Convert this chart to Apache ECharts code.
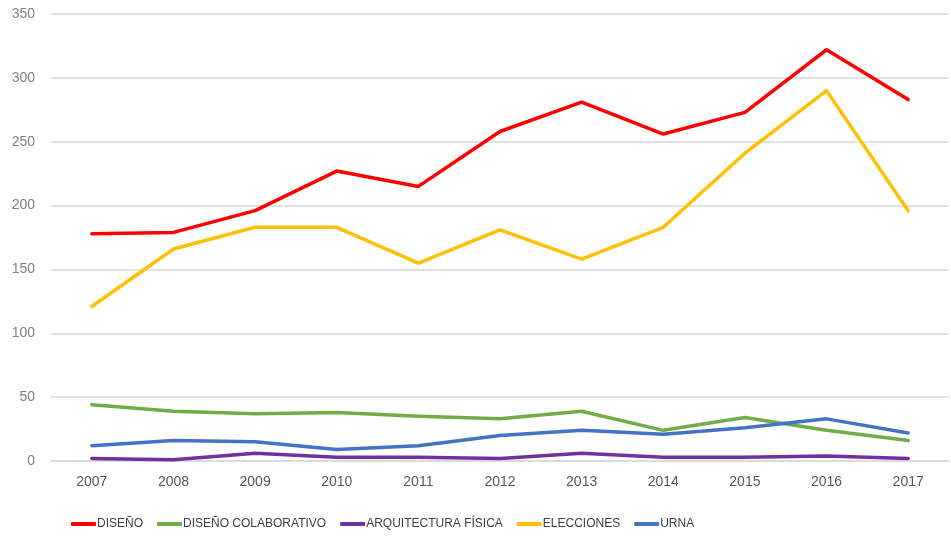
<!DOCTYPE html>
<html>
<head>
<meta charset="utf-8">
<script src="https://cdn.jsdelivr.net/npm/echarts@6/dist/echarts.min.js"></script>
<style>
    html, body {margin: 0; padding: 0; background: #fff;}
    #chart {width: 951px; height: 546px;}
</style>
</head>
<body>
<div id="chart"></div>
<script>
    var years = ['2007', '2008', '2009', '2010', '2011', '2012', '2013', '2014', '2015', '2016', '2017'];
    var diseno = [178, 179, 196, 227, 215, 258, 281, 256, 273, 322, 283];
    var disenoColab = [44, 39, 37, 38, 35, 33, 39, 24, 34, 24, 16];
    var arquitectura = [2, 1, 6, 3, 3, 2, 6, 3, 3, 4, 2];
    var elecciones = [121, 166, 183, 183, 155, 181, 158, 183, 241, 290, 196];
    var urna = [12, 16, 15, 9, 12, 20, 24, 21, 26, 33, 22];

    var font = '"Liberation Sans", Arial, sans-serif';

    function line(name, data, color) {
        return {
            name: name,
            type: 'line',
            data: data,
            symbol: 'none',
            smooth: false,
            itemStyle: {color: color},
            lineStyle: {color: color, width: 3.5, cap: 'round', join: 'round'}
        };
    }

    var chart = echarts.init(document.getElementById('chart'));
    chart.setOption({
        animation: false,
        textStyle: {fontFamily: font},
        grid: {left: 51, right: 2, top: 14, bottom: 85},
        legend: {
            left: 66,
            top: 513,
            icon: 'roundRect',
            itemWidth: 25,
            itemHeight: 4,
            itemGap: 14,
            textStyle: {fontFamily: font, fontSize: 12, color: '#404040', padding: [0, 0, 0, -4]},
            data: ['DISEÑO', 'DISEÑO COLABORATIVO', 'ARQUITECTURA FÍSICA', 'ELECCIONES', 'URNA']
        },
        xAxis: {
            type: 'category',
            data: years,
            boundaryGap: true,
            axisLine: {show: true, lineStyle: {color: '#d9d9d9', width: 1.5}},
            axisTick: {show: false},
            axisLabel: {color: '#595959', fontSize: 14, margin: 14, fontFamily: font}
        },
        yAxis: {
            type: 'value',
            min: 0,
            max: 350,
            interval: 50,
            axisLine: {show: false},
            axisTick: {show: false},
            axisLabel: {color: '#7f7f7f', fontSize: 14, margin: 16, fontFamily: font},
            splitLine: {lineStyle: {color: '#d9d9d9', width: 1.5}}
        },
        series: [
            line('DISEÑO', diseno, '#ff0000'),
            line('DISEÑO COLABORATIVO', disenoColab, '#70ad47'),
            line('ARQUITECTURA FÍSICA', arquitectura, '#7030a0'),
            line('ELECCIONES', elecciones, '#ffc000'),
            line('URNA', urna, '#4472c4')
        ]
    });
</script>
</body>
</html>
